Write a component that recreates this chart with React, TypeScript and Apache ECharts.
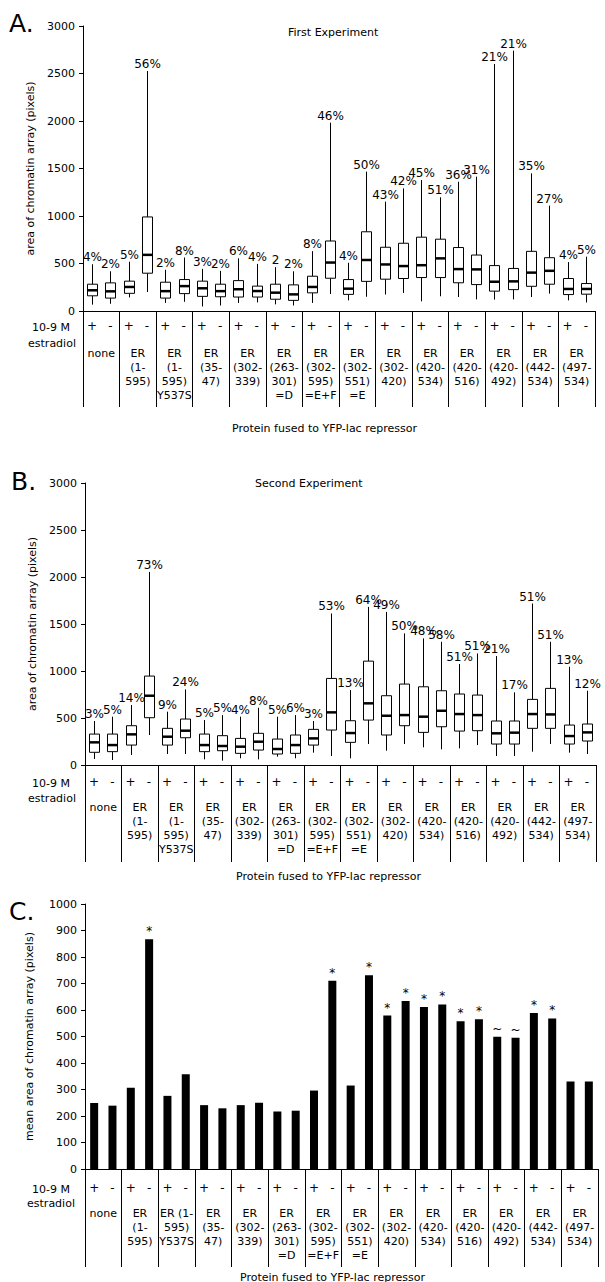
import React, { useEffect, useRef } from "react";
import * as echarts from "echarts";

// ---------- categories ----------
const conditions = ["+", "-", "+", "-", "+", "-", "+", "-", "+", "-", "+", "-", "+", "-", "+", "-", "+", "-", "+", "-", "+", "-", "+", "-", "+", "-", "+", "-"];
const groupsAB = ["none", "ER\n(1-\n595)", "ER\n(1-\n595)\nY537S", "ER\n(35-\n47)", "ER\n(302-\n339)", "ER\n(263-\n301)\n=D", "ER\n(302-\n595)\n=E+F", "ER\n(302-\n551)\n=E", "ER\n(302-\n420)", "ER\n(420-\n534)", "ER\n(420-\n516)", "ER\n(420-\n492)", "ER\n(442-\n534)", "ER\n(497-\n534)"];
const groupsC = ["none", "ER\n(1-\n595)", "ER (1-\n595)\nY537S", "ER\n(35-\n47)", "ER\n(302-\n339)", "ER\n(263-\n301)\n=D", "ER\n(302-\n595)\n=E+F", "ER\n(302-\n551)\n=E", "ER\n(302-\n420)", "ER\n(420-\n534)", "ER\n(420-\n516)", "ER\n(420-\n492)", "ER\n(442-\n534)", "ER\n(497-\n534)"];

// ---------- A. First Experiment ----------
const firstLow = [67, 76, 143, 200, 85, 97, 48, 58, 85, 90, 70, 58, 85, 179, 112, 150, 174, 190, 102, 155, 147, 122, 120, 122, 147, 183, 112, 90];
const firstQ1 = [160, 136, 186, 398, 136, 183, 154, 150, 147, 147, 124, 112, 191, 345, 175, 312, 335, 342, 352, 352, 297, 278, 209, 225, 260, 282, 173, 177];
const firstMedian = [218, 207, 253, 591, 209, 262, 239, 209, 229, 210, 193, 175, 253, 510, 235, 537, 490, 473, 482, 554, 441, 438, 308, 312, 404, 423, 232, 232];
const firstQ3 = [282, 296, 314, 990, 303, 331, 314, 282, 320, 262, 282, 275, 366, 737, 331, 834, 671, 713, 777, 756, 668, 589, 478, 448, 628, 561, 342, 289];
const firstHigh = [492, 418, 519, 2526, 434, 563, 443, 422, 554, 496, 462, 418, 630, 1982, 508, 1467, 1151, 1291, 1379, 1197, 1361, 1414, 2600, 2740, 1449, 1109, 515, 572];
const firstPct = ["4%", "2%", "5%", "56%", "2%", "8%", "3%", "2%", "6%", "4%", "2", "2%", "8%", "46%", "4%", "50%", "43%", "42%", "45%", "51%", "36%", "31%", "21%", "21%", "35%", "27%", "4%", "5%"];

// ---------- B. Second Experiment ----------
const secondLow = [64, 53, 106, 319, 117, 117, 60, 46, 71, 60, 89, 71, 131, 96, 71, 223, 152, 223, 188, 167, 177, 212, 96, 96, 142, 223, 131, 117];
const secondQ1 = [135, 142, 212, 503, 212, 290, 142, 152, 124, 159, 117, 124, 212, 372, 241, 478, 319, 418, 347, 407, 361, 365, 223, 223, 390, 390, 223, 255];
const secondMedian = [241, 212, 326, 737, 301, 365, 212, 202, 195, 248, 170, 212, 283, 560, 340, 656, 524, 531, 514, 577, 542, 531, 337, 344, 542, 538, 308, 347];
const secondQ3 = [329, 329, 418, 946, 390, 489, 329, 312, 283, 337, 276, 319, 379, 921, 471, 1105, 737, 861, 832, 790, 755, 744, 468, 468, 698, 815, 425, 436];
const secondHigh = [468, 514, 638, 2054, 567, 804, 478, 531, 514, 609, 514, 531, 468, 1612, 797, 1682, 1629, 1400, 1347, 1311, 1074, 1187, 1159, 773, 1718, 1311, 1045, 790];
const secondPct = ["3%", "5%", "14%", "73%", "9%", "24%", "5%", "5%", "4%", "8%", "5%", "6%", "3%", "53%", "13%", "64%", "49%", "50%", "48%", "58%", "51%", "51%", "21%", "17%", "51%", "51%", "13%", "12%"];

// ---------- C. Mean area ----------
const meanArea = [249, 239, 307, 867, 276, 358, 241, 229, 241, 250, 217, 220, 296, 710, 315, 731, 579, 634, 611, 621, 558, 565, 499, 495, 589, 568, 330, 330];
const meanMarks = ["", "", "", "*", "", "", "", "", "", "", "", "", "", "*", "", "*", "*", "*", "*", "*", "*", "*", "~", "~", "*", "*", "", ""];

const boxTicks = { min: 0, max: 3000, interval: 500 };
const barTicks = { min: 0, max: 1000, interval: 100 };

const FONT = "DejaVu Sans";

function boxRenderer(labels: string[]) {
  return (params: any, api: any) => {
    const x = api.value(0);
    const lo = api.coord([x, api.value(1)]);
    const q1 = api.coord([x, api.value(2)]);
    const md = api.coord([x, api.value(3)]);
    const q3 = api.coord([x, api.value(4)]);
    const hi = api.coord([x, api.value(5)]);
    const w = 10;
    const cx = Math.round(lo[0]) + 0.5;
    const ln = { stroke: "#000", lineWidth: 1 };
    return {
      type: "group",
      children: [
        { type: "line", shape: { x1: cx, y1: lo[1], x2: cx, y2: q1[1] }, style: ln },
        { type: "line", shape: { x1: cx, y1: q3[1], x2: cx, y2: hi[1] }, style: ln },
        { type: "rect", shape: { x: cx - w / 2, y: q3[1], width: w, height: q1[1] - q3[1] }, style: { fill: "#fff", stroke: "#000", lineWidth: 1 } },
        { type: "line", shape: { x1: cx - w / 2, y1: md[1], x2: cx + w / 2, y2: md[1] }, style: { stroke: "#000", lineWidth: 2.5 } },
        {
          type: "text",
          x: cx,
          y: hi[1] - 1,
          style: { text: labels[params.dataIndex], align: "center", verticalAlign: "bottom", fontSize: 12, fontFamily: FONT, fill: "#000" },
        },
      ],
    };
  };
}

function makeRows(lo: number[], q1: number[], md: number[], q3: number[], hi: number[]) {
  return conditions.map((_, i) => [i, lo[i], q1[i], md[i], q3[i], hi[i]]);
}

const gridsDef = [
  { left: 83, right: 10, top: 26, height: 285, condMargin: 9, groupMargin: 35, tick: 96 },
  { left: 85, right: 9, top: 483, height: 282, condMargin: 11, groupMargin: 35, tick: 97 },
  { left: 85, right: 7, top: 904, height: 265, condMargin: 13, groupMargin: 37, tick: 98 },
];

export default function App() {
  const ref = useRef<HTMLDivElement>(null);
  useEffect(() => {
    if (!ref.current) return;
    const chart = echarts.init(ref.current, undefined, { renderer: "svg" });
    const axisLine = { show: true, lineStyle: { color: "#000", width: 1 } };
    const xAxes: any[] = [];
    const yAxes: any[] = [];
    gridsDef.forEach((g, gi) => {
      xAxes.push({
        type: "category",
        gridIndex: gi,
        data: conditions,
        position: "bottom",
        axisLine: { show: false },
        axisTick: { show: false },
        axisLabel: { interval: 0, margin: g.condMargin, fontSize: 12, color: "#000", fontFamily: FONT },
      });
      xAxes.push({
        type: "category",
        gridIndex: gi,
        data: gi === 2 ? groupsC : groupsAB,
        position: "bottom",
        axisLine,
        axisTick: { show: true, interval: 0, length: g.tick, lineStyle: { color: "#000", width: 1 } },
        axisLabel: { interval: 0, margin: g.groupMargin, fontSize: 11, lineHeight: 14, color: "#000", fontFamily: FONT, align: "center" },
      });
      const t = gi === 2 ? barTicks : boxTicks;
      yAxes.push({
        type: "value",
        gridIndex: gi,
        min: t.min,
        max: t.max,
        interval: t.interval,
        name: gi === 2 ? "mean area of chromatin array (pixels)" : "area of chromatin array (pixels)",
        nameLocation: "middle",
        nameGap: gi === 2 ? 50 : 46,
        nameTextStyle: { fontSize: 11, color: "#000", fontFamily: FONT },
        axisLine,
        axisTick: { show: true, length: 4, lineStyle: { color: "#000" } },
        splitLine: { show: false },
        axisLabel: { fontSize: 11, color: "#000", fontFamily: FONT, margin: 8, formatter: (v: number) => String(v) },
      });
    });

    const txt = (x: number, y: number, text: string, fontSize = 11, extra: any = {}) => ({
      type: "text",
      x,
      y,
      style: { text, fontSize, fontFamily: FONT, fill: "#000", verticalAlign: "middle", ...extra },
    });
    const mid = { align: "center" };

    chart.setOption({
      animation: false,
      backgroundColor: "#fff",
      textStyle: { fontFamily: FONT },
      grid: gridsDef.map((g) => ({ left: g.left, right: g.right, top: g.top, height: g.height, containLabel: false })),
      xAxis: xAxes,
      yAxis: yAxes,
      series: [
        {
          type: "custom",
          xAxisIndex: 0,
          yAxisIndex: 0,
          data: makeRows(firstLow, firstQ1, firstMedian, firstQ3, firstHigh),
          encode: { x: 0, y: [1, 2, 3, 4, 5] },
          renderItem: boxRenderer(firstPct),
          clip: false,
        },
        {
          type: "custom",
          xAxisIndex: 2,
          yAxisIndex: 1,
          data: makeRows(secondLow, secondQ1, secondMedian, secondQ3, secondHigh),
          encode: { x: 0, y: [1, 2, 3, 4, 5] },
          renderItem: boxRenderer(secondPct),
          clip: false,
        },
        {
          type: "bar",
          xAxisIndex: 4,
          yAxisIndex: 2,
          data: meanArea,
          barWidth: 8,
          itemStyle: { color: "#000" },
          label: {
            show: true,
            position: "top",
            distance: 2,
            fontSize: 12,
            color: "#000",
            fontFamily: FONT,
            formatter: (p: any) => meanMarks[p.dataIndex],
          },
        },
      ],
      graphic: [
        txt(9, 23, "A.", 25),
        txt(11, 481, "B.", 25),
        txt(9, 911, "C.", 25),
        txt(288, 32, "First Experiment"),
        txt(255, 483, "Second Experiment"),
        txt(51, 327, "10-9 M", 11, mid),
        txt(52, 343, "estradiol", 11, mid),
        txt(51, 783, "10-9 M", 11, mid),
        txt(52, 798, "estradiol", 11, mid),
        txt(51, 1189, "10-9 M", 11, mid),
        txt(51, 1203, "estradiol", 11, mid),
        txt(232, 428, "Protein fused to YFP-lac repressor"),
        txt(236, 876, "Protein fused to YFP-lac repressor"),
        txt(240, 1277, "Protein fused to YFP-lac repressor"),
      ],
    });
    return () => chart.dispose();
  }, []);
  return <div ref={ref} style={{ position: "absolute", left: 0, top: 0, width: 605, height: 1282 }} />;
}
